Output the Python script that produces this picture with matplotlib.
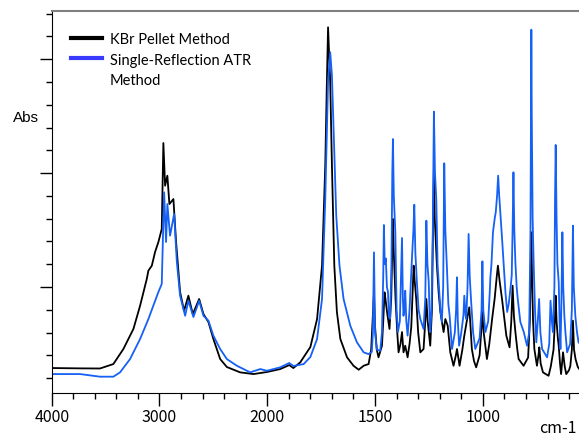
import numpy as np
import matplotlib
matplotlib.use('Agg')
import matplotlib.pyplot as plt
from matplotlib.lines import Line2D
from matplotlib.ticker import FixedLocator, NullFormatter

# KBr pellet spectrum (wavenumber cm-1, absorbance)
kbr_wn = [4000, 3737, 3552, 3428, 3335, 3242, 3180, 3118, 3103, 3071, 3041, 3010, 2979,
          2964, 2948, 2927, 2908, 2871, 2846, 2809, 2772, 2732, 2691, 2632, 2592, 2546,
          2500, 2437, 2375, 2252, 2128, 2004, 1940, 1898, 1879, 1847, 1800, 1769, 1746,
          1731, 1724, 1718, 1712, 1708, 1700, 1689, 1677, 1661, 1630, 1600, 1576, 1553,
          1530, 1518, 1510, 1505, 1500, 1492, 1484, 1468, 1462, 1456, 1452, 1448, 1442,
          1433, 1425, 1420, 1417, 1413, 1405, 1397, 1391, 1382, 1375, 1371, 1368, 1360,
          1349, 1340, 1332, 1325, 1321, 1316, 1309, 1300, 1290, 1275, 1267, 1262, 1256,
          1248, 1244, 1236, 1230, 1227, 1223, 1213, 1205, 1197, 1182, 1174, 1163, 1151,
          1136, 1125, 1120, 1114, 1108, 1095, 1086, 1070, 1063, 1057, 1051, 1041, 1031,
          1015, 1006, 1002, 996, 981, 970, 957, 945, 935, 930, 922, 911, 900, 891, 876,
          868, 862, 856, 849, 840, 834, 811, 790, 782, 777, 775, 772, 767, 761, 749, 742,
          738, 732, 721, 695, 685, 672, 666, 662, 658, 652, 648, 642, 637, 628, 620, 613,
          600, 594, 587, 582, 577, 570, 560, 553, 526]
kbr_abs = [0.288, 0.285, 0.284, 0.323, 0.455, 0.631, 0.835, 1.070, 1.143, 1.187, 1.307,
           1.395, 1.509, 2.264, 1.889, 1.977, 1.728, 1.772, 1.395, 0.956, 0.791, 0.923,
           0.762, 0.894, 0.762, 0.692, 0.543, 0.367, 0.297, 0.250, 0.235, 0.253, 0.279,
           0.314, 0.288, 0.338, 0.473, 0.718, 1.187, 2.065, 2.750, 3.280, 3.000, 2.800,
           2.065, 1.187, 0.780, 0.543, 0.382, 0.308, 0.273, 0.308, 0.323, 0.450, 0.750,
           0.950, 0.650, 0.450, 0.382, 0.484, 0.700, 0.953, 0.900, 0.835, 0.747, 0.631,
           0.900, 1.350, 1.597, 1.300, 0.894, 0.600, 0.426, 0.500, 0.604, 0.500, 0.426,
           0.484, 0.382, 0.500, 0.650, 1.000, 1.187, 1.050, 0.894, 0.600, 0.426, 0.455,
           0.700, 0.894, 0.700, 0.550, 0.484, 0.800, 1.700, 2.036, 1.600, 1.187, 0.950,
           0.780, 0.604, 0.718, 0.660, 0.426, 0.308, 0.400, 0.455, 0.380, 0.308, 0.450,
           0.572, 0.750, 0.821, 0.650, 0.455, 0.350, 0.294, 0.400, 0.650, 0.780, 0.600,
           0.367, 0.500, 0.718, 0.900, 1.100, 1.187, 1.050, 0.894, 0.720, 0.572, 0.470,
           0.700, 1.011, 0.750, 0.604, 0.450, 0.367, 0.308, 0.380, 0.700, 1.300, 1.480,
           1.100, 0.700, 0.455, 0.308, 0.400, 0.470, 0.330, 0.250, 0.220, 0.300, 0.450,
           0.700, 0.923, 0.700, 0.550, 0.484, 0.330, 0.235, 0.426, 0.300, 0.235, 0.270,
           0.308, 0.450, 0.704, 0.450, 0.367, 0.300, 0.279, 0.260]

# single-reflection ATR spectrum
atr_wn = [4000, 3737, 3552, 3428, 3366, 3273, 3180, 3103, 3057, 3010, 2979, 2957, 2939,
          2927, 2902, 2864, 2839, 2809, 2762, 2732, 2685, 2632, 2592, 2546, 2500, 2437,
          2375, 2282, 2159, 2065, 2004, 1940, 1898, 1879, 1831, 1800, 1769, 1746, 1731,
          1718, 1708, 1700, 1692, 1680, 1665, 1646, 1615, 1584, 1553, 1530, 1515, 1510,
          1505, 1500, 1492, 1476, 1468, 1462, 1459, 1455, 1450, 1445, 1440, 1436, 1430,
          1424, 1420, 1417, 1413, 1406, 1400, 1394, 1385, 1378, 1375, 1371, 1368, 1363,
          1360, 1355, 1349, 1340, 1329, 1322, 1318, 1313, 1306, 1298, 1290, 1275, 1267,
          1262, 1257, 1251, 1247, 1244, 1238, 1232, 1227, 1222, 1216, 1210, 1205, 1197,
          1190, 1184, 1179, 1174, 1166, 1160, 1154, 1143, 1130, 1124, 1120, 1116, 1110,
          1100, 1090, 1086, 1080, 1077, 1071, 1066, 1061, 1055, 1045, 1035, 1015, 1006,
          1002, 998, 988, 975, 968, 965, 960, 953, 945, 940, 934, 929, 924, 919, 910,
          903, 895, 887, 880, 872, 866, 862, 858, 854, 849, 843, 838, 826, 810, 795, 785,
          779, 776, 775, 773, 769, 764, 758, 752, 745, 739, 733, 725, 702, 692, 686, 680,
          675, 668, 665, 662, 658, 654, 648, 644, 640, 636, 631, 627, 622, 617, 609, 595,
          587, 582, 578, 571, 563, 556, 540, 525]
atr_abs = [0.235, 0.235, 0.212, 0.212, 0.250, 0.367, 0.543, 0.718, 0.835, 0.956, 1.026,
           1.831, 1.395, 1.728, 1.450, 1.641, 1.219, 0.923, 0.747, 0.879, 0.736, 0.879,
           0.747, 0.704, 0.572, 0.455, 0.367, 0.308, 0.250, 0.279, 0.264, 0.294, 0.332,
           0.306, 0.323, 0.385, 0.543, 0.894, 1.772, 2.800, 3.061, 2.855, 2.361, 1.626,
           1.187, 0.894, 0.660, 0.514, 0.426, 0.410, 0.430, 0.600, 1.304, 0.600, 0.450,
           0.440, 0.600, 1.100, 1.544, 1.200, 1.250, 1.000, 0.956, 0.750, 0.720, 1.200,
           2.000, 2.299, 1.800, 1.483, 0.800, 0.604, 0.700, 1.200, 1.430, 0.900, 0.747,
           0.850, 0.967, 0.700, 0.572, 0.800, 1.245, 1.500, 1.722, 1.300, 1.043, 0.800,
           0.718, 0.631, 0.900, 1.582, 1.200, 1.043, 0.750, 0.604, 0.800, 1.500, 2.539,
           2.000, 1.772, 1.200, 1.043, 0.800, 0.692, 1.000, 2.086, 1.500, 1.143, 0.850,
           0.747, 0.455, 0.600, 0.800, 1.085, 0.700, 0.484, 0.600, 0.750, 0.923, 0.750,
           0.718, 1.000, 1.465, 1.100, 0.894, 0.600, 0.455, 0.550, 0.800, 1.225, 0.800,
           0.604, 0.700, 0.950, 1.085, 1.200, 1.480, 1.600, 1.658, 1.800, 1.977, 1.800,
           1.658, 1.400, 1.187, 0.950, 0.780, 0.850, 0.982, 1.100, 1.500, 2.007, 1.500,
           1.216, 1.000, 0.894, 0.692, 0.604, 0.484, 0.600, 1.500, 3.000, 3.259, 2.500,
           1.600, 1.187, 0.800, 0.514, 0.700, 0.894, 0.600, 0.455, 0.382, 0.500, 0.879,
           0.700, 0.604, 1.000, 1.800, 2.247, 1.600, 1.200, 1.043, 0.700, 0.455, 0.800,
           1.480, 1.000, 0.750, 0.604, 0.426, 0.500, 0.800, 1.538, 1.000, 0.747, 0.600,
           0.514, 0.480, 0.455]

x_major = [4000, 3000, 2000, 1500, 1000]


# wavenumbers above 2000 are drawn at half scale
def forward(w):
    w = np.asarray(w, dtype=float)
    return np.where(w > 2000, 2000 + (w - 2000) / 2, w)


def inverse(u):
    u = np.asarray(u, dtype=float)
    return np.where(u > 2000, 2000 + (u - 2000) * 2, u)


fig = plt.figure(figsize=(5.79, 4.39), dpi=100)
ax = fig.add_axes([0.0893, 0.1018, 0.968, 0.870])
ax.set_xscale('function', functions=(forward, inverse))

ax.plot(kbr_wn, kbr_abs, color='black', lw=1.3)
ax.plot(atr_wn, atr_abs, color='#1560f5', lw=1.3)

ax.set_xlim(4000, 400)
ax.set_ylim(0.066, 3.42)

ax.xaxis.set_major_locator(FixedLocator(x_major))
ax.xaxis.set_minor_locator(FixedLocator(list(range(3800, 2000, -200)) + [w for w in range(1900, 400, -100) if w not in x_major]))
ax.xaxis.set_minor_formatter(NullFormatter())
ax.yaxis.set_major_locator(FixedLocator([1, 2, 3]))
ax.yaxis.set_minor_locator(FixedLocator(np.arange(0.2, 3.5, 0.2)))
ax.set_yticklabels([])

ax.tick_params(which='major', length=9, width=1, direction='out', pad=1.5)
ax.tick_params(which='minor', length=4.5, width=1, direction='out')
for lab in ax.get_xticklabels():
    lab.set_fontfamily('Noto Sans CJK JP')
    lab.set_fontsize(11.5)

ax.spines['top'].set_color('#808080')
ax.spines['top'].set_linewidth(1.5)
ax.spines['right'].set_visible(False)

handles = [Line2D([], [], color='black', lw=3),
           Line2D([], [], color='#3a3aff', lw=3),
           Line2D([], [], color='none')]
ax.legend(handles, ['KBr Pellet Method', 'Single-Reflection ATR', 'Method'],
          loc='upper left', bbox_to_anchor=(0.0344, 0.946), frameon=False,
          borderpad=0, borderaxespad=0, handlelength=2.1, handletextpad=0.57,
          labelspacing=0.45, prop={'family': 'Lato', 'size': 10.5})

fig.text(13.3 / 579, 0.731, 'Abs', ha='left', va='center', family='Liberation Sans', fontsize=11)
fig.text(577 / 579, (439 - 429) / 439, 'cm-1', ha='right', va='center',
         family='Noto Sans CJK JP', fontsize=11.5)

fig.savefig('out.png', dpi=100)
